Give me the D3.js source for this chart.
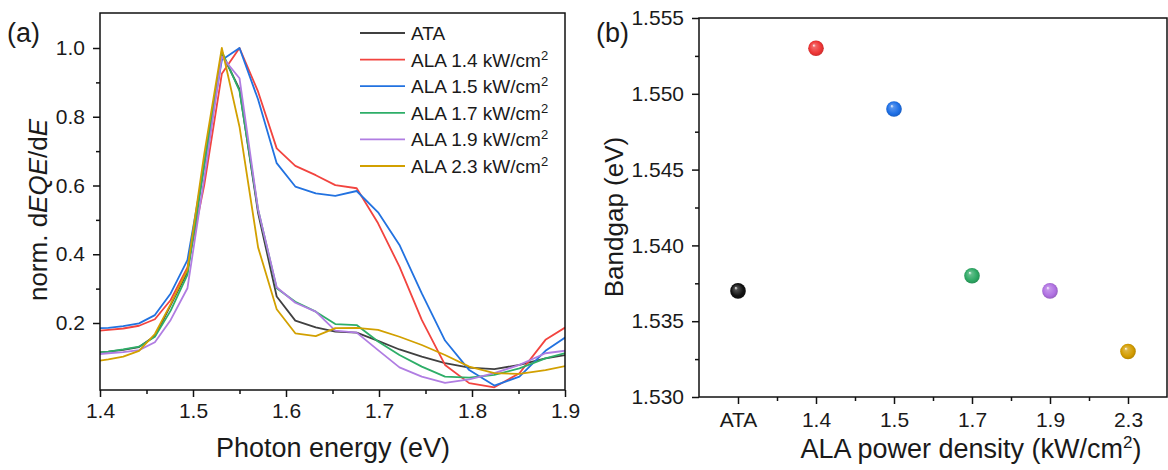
<!DOCTYPE html>
<html lang="en">
<head>
<meta charset="UTF-8">
<title>dEQE/dE and bandgap</title>
<script src="https://d3js.org/d3.v7.min.js"></script>
<style>
    body { margin: 0; background: #fff; }
    svg text { font-family: "Liberation Sans", Arial, sans-serif; fill: #1a1a1a; }
    .axis path, .axis line { stroke: #111; stroke-width: 1.5; }
    .axis text { font-size: 21px; }
</style>
</head>
<body>
<div id="chart"></div>
<script>
    // photon energy grid (eV)
    var energy = [1.393, 1.409, 1.425, 1.442, 1.459, 1.476, 1.494, 1.512, 1.531, 1.550, 1.570, 1.590,
        1.610, 1.632, 1.653, 1.676, 1.699, 1.722, 1.746, 1.771, 1.797, 1.824, 1.851, 1.879, 1.908];

    var ata    = [0.113, 0.117, 0.122, 0.130, 0.162, 0.252, 0.349, 0.660, 0.985, 0.880, 0.520, 0.277,
        0.207, 0.187, 0.175, 0.172, 0.148, 0.123, 0.102, 0.083, 0.070, 0.066, 0.078, 0.097, 0.110];
    var ala14  = [0.176, 0.180, 0.184, 0.192, 0.211, 0.267, 0.362, 0.600, 0.925, 1.000, 0.873, 0.708,
        0.657, 0.630, 0.601, 0.592, 0.490, 0.364, 0.209, 0.078, 0.025, 0.013, 0.054, 0.151, 0.200];
    var ala15  = [0.184, 0.186, 0.191, 0.199, 0.223, 0.286, 0.383, 0.660, 0.965, 1.000, 0.850, 0.665,
        0.597, 0.577, 0.570, 0.584, 0.522, 0.427, 0.286, 0.149, 0.063, 0.018, 0.044, 0.119, 0.172];
    var ala17  = [0.113, 0.117, 0.123, 0.131, 0.160, 0.236, 0.340, 0.655, 0.990, 0.875, 0.530, 0.301,
        0.262, 0.233, 0.197, 0.194, 0.146, 0.107, 0.073, 0.044, 0.041, 0.049, 0.068, 0.097, 0.118];
    var ala19  = [0.108, 0.112, 0.115, 0.121, 0.144, 0.209, 0.301, 0.620, 0.975, 0.912, 0.530, 0.304,
        0.259, 0.233, 0.178, 0.172, 0.121, 0.071, 0.044, 0.026, 0.036, 0.054, 0.078, 0.112, 0.122];
    var ala23  = [0.088, 0.094, 0.102, 0.119, 0.168, 0.255, 0.355, 0.690, 1.000, 0.771, 0.420, 0.240,
        0.170, 0.162, 0.185, 0.186, 0.180, 0.160, 0.136, 0.107, 0.073, 0.054, 0.052, 0.063, 0.079];

    var seriesNames = ["ATA", "ALA 1.4", "ALA 1.5", "ALA 1.7", "ALA 1.9", "ALA 2.3"];
    var seriesColors = ["#404040", "#f2443f", "#2272e0", "#2eae68", "#b07de2", "#d2a000"];
    var allSeries = [ata, ala14, ala15, ala17, ala19, ala23];

    // panel (b)
    var bgLabels = ["ATA", "1.4", "1.5", "1.7", "1.9", "2.3"];
    var bandgap = [1.537, 1.553, 1.549, 1.538, 1.537, 1.533];
    var sphereColors = ["#111111", "#ee3535", "#1d6fe6", "#2ea864", "#b071e2", "#d39c00"];

    var svg = d3.select("#chart").append("svg")
        .attr("width", 1168)
        .attr("height", 470);

    // ---------- panel (a) ----------
    var x = d3.scaleLinear().domain([1.4, 1.9]).range([100, 565]);
    var y = d3.scaleLinear().domain([0.2, 1.0]).range([323, 48]);
    var yTop = 13, yBottom = 390;

    svg.append("defs").append("clipPath").attr("id", "clipA")
        .append("rect").attr("x", 100).attr("y", yTop).attr("width", 465).attr("height", yBottom - yTop);

    var line = d3.line()
        .x(function (d, i) { return x(energy[i]); })
        .y(function (d) { return y(d); });

    var lines = svg.append("g").attr("clip-path", "url(#clipA)");
    allSeries.forEach(function (s, k) {
        lines.append("path")
            .datum(s)
            .attr("fill", "none")
            .attr("stroke", seriesColors[k])
            .attr("stroke-width", 1.8)
            .attr("stroke-linejoin", "round")
            .attr("d", line);
    });

    // frame
    svg.append("rect").attr("x", 100).attr("y", yTop).attr("width", 465).attr("height", yBottom - yTop)
        .attr("fill", "none").attr("stroke", "#111").attr("stroke-width", 1.5);

    // axes, major and minor ticks
    svg.append("g").attr("class", "axis").attr("transform", "translate(0," + yBottom + ")")
        .call(d3.axisBottom(x).tickValues([1.45, 1.55, 1.65, 1.75, 1.85]).tickSize(4).tickFormat(""));
    svg.append("g").attr("class", "axis").attr("transform", "translate(0," + yBottom + ")")
        .call(d3.axisBottom(x).tickValues([1.4, 1.5, 1.6, 1.7, 1.8, 1.9]).tickSize(7).tickPadding(6)
            .tickFormat(d3.format(".1f")));
    svg.append("g").attr("class", "axis").attr("transform", "translate(100,0)")
        .call(d3.axisLeft(y).tickValues([0.3, 0.5, 0.7, 0.9]).tickSize(4).tickFormat(""));
    svg.append("g").attr("class", "axis").attr("transform", "translate(100,0)")
        .call(d3.axisLeft(y).tickValues([0.2, 0.4, 0.6, 0.8, 1.0]).tickSize(7).tickPadding(8)
            .tickFormat(d3.format(".1f")));
    svg.selectAll(".axis .domain").remove();

    svg.append("text").attr("x", 333).attr("y", 457).attr("text-anchor", "middle")
        .style("font-size", "27px").text("Photon energy (eV)");

    var yt = svg.append("text").attr("transform", "translate(47,210) rotate(-90)")
        .attr("text-anchor", "middle").style("font-size", "26px");
    yt.append("tspan").text("norm. d");
    yt.append("tspan").style("font-style", "italic").text("EQE");
    yt.append("tspan").text("/d");
    yt.append("tspan").style("font-style", "italic").text("E");

    svg.append("text").attr("x", 7).attr("y", 42).style("font-size", "27px").text("(a)");

    // legend
    var legend = svg.append("g");
    seriesNames.forEach(function (name, k) {
        var ly = 33 + k * 26.6;
        legend.append("line").attr("x1", 360).attr("x2", 405).attr("y1", ly).attr("y2", ly)
            .attr("stroke", seriesColors[k]).attr("stroke-width", 1.8);
        var t = legend.append("text").attr("x", 411).attr("y", ly + 7).style("font-size", "19px");
        t.append("tspan").text(k === 0 ? name : name + " kW/cm");
        if (k > 0) t.append("tspan").attr("dy", -7).style("font-size", "13px").text("2");
    });

    // ---------- panel (b) ----------
    var xb = d3.scalePoint().domain(bgLabels).range([699, 1167]).padding(0.5);
    var yb = d3.scaleLinear().domain([1.530, 1.555]).range([397, 18]);

    svg.append("rect").attr("x", 699).attr("y", 18).attr("width", 468).attr("height", 379)
        .attr("fill", "none").attr("stroke", "#111").attr("stroke-width", 1.5);

    svg.append("g").attr("class", "axis").attr("transform", "translate(0,397)")
        .call(d3.axisBottom(xb).tickSize(7).tickPadding(8));
    svg.append("g").attr("class", "axis").attr("transform", "translate(0,397)")
        .call(d3.axisBottom(d3.scaleLinear().range([699, 1167]).domain([0, 6]))
            .tickValues([1, 2, 3, 4, 5]).tickSize(4).tickFormat(""));
    svg.append("g").attr("class", "axis").attr("transform", "translate(699,0)")
        .call(d3.axisLeft(yb).tickValues([1.530, 1.535, 1.540, 1.545, 1.550, 1.555])
            .tickSize(7).tickPadding(8).tickFormat(d3.format(".3f")));
    svg.append("g").attr("class", "axis").attr("transform", "translate(699,0)")
        .call(d3.axisLeft(yb).tickValues([1.5325, 1.5375, 1.5425, 1.5475, 1.5525])
            .tickSize(4).tickFormat(""));
    svg.selectAll(".axis .domain").remove();

    var defs = svg.select("defs");
    sphereColors.forEach(function (c, k) {
        var g = defs.append("radialGradient").attr("id", "sph" + k)
            .attr("cx", "50%").attr("cy", "50%").attr("r", "55%")
            .attr("fx", "35%").attr("fy", "30%");
        g.append("stop").attr("offset", "0%").attr("stop-color", "#ffffff");
        g.append("stop").attr("offset", "20%").attr("stop-color", d3.interpolateRgb(c, "#fff")(0.25));
        g.append("stop").attr("offset", "70%").attr("stop-color", c);
        g.append("stop").attr("offset", "100%").attr("stop-color", d3.color(c).darker(0.6));
    });

    svg.append("g").selectAll("circle")
        .data(bandgap)
        .enter().append("circle")
        .attr("cx", function (d, i) { return xb(bgLabels[i]); })
        .attr("cy", function (d) { return yb(d); })
        .attr("r", 7.8)
        .attr("fill", function (d, i) { return "url(#sph" + i + ")"; });

    var xtb = svg.append("text").attr("x", 971).attr("y", 458).attr("text-anchor", "middle")
        .style("font-size", "27px");
    xtb.append("tspan").text("ALA power density (kW/cm");
    xtb.append("tspan").attr("dy", -10).style("font-size", "17px").text("2");
    xtb.append("tspan").attr("dy", 10).text(")");

    svg.append("text").attr("transform", "translate(623,217) rotate(-90)")
        .attr("text-anchor", "middle").style("font-size", "26px").text("Bandgap (eV)");

    svg.append("text").attr("x", 596).attr("y", 42).style("font-size", "27px").text("(b)");
</script>
</body>
</html>
